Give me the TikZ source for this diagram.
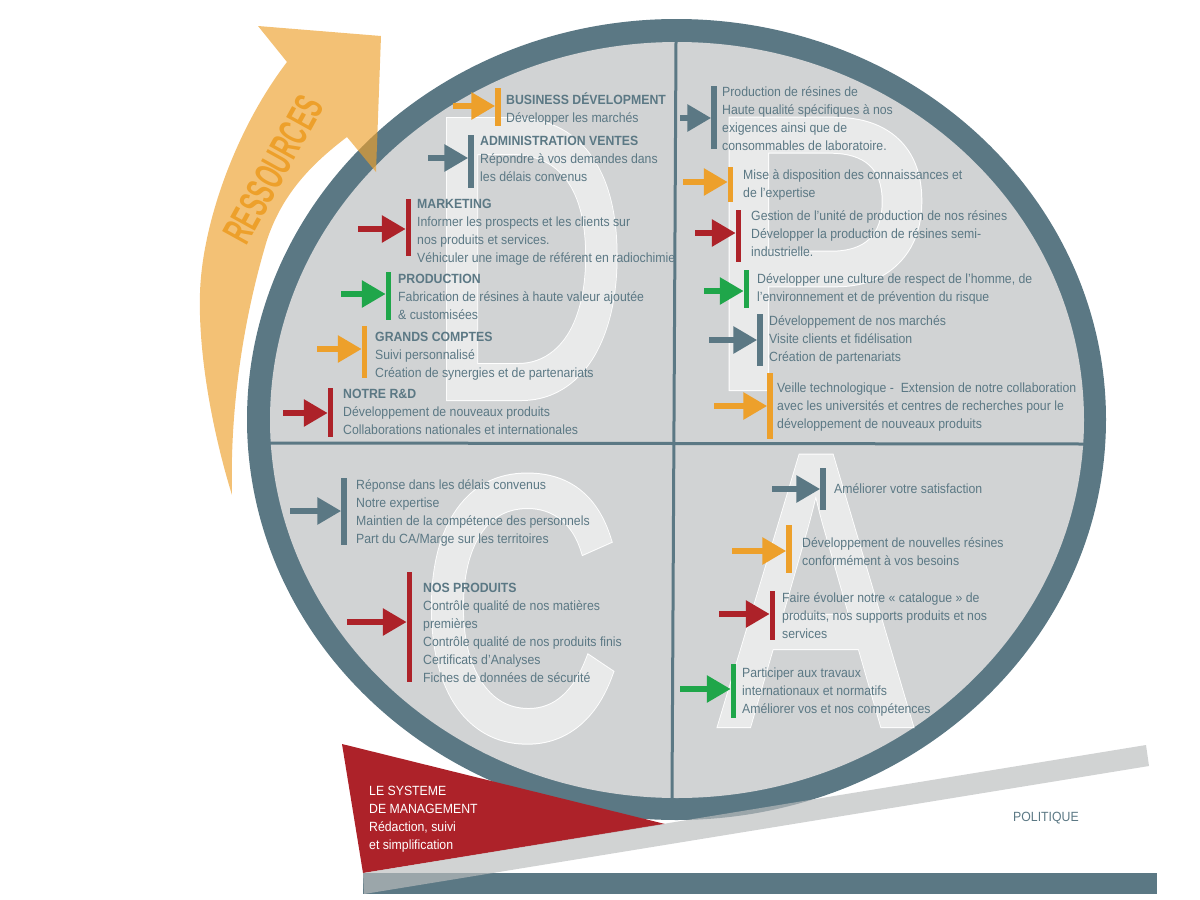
\documentclass[tikz,border=0pt]{standalone}
\usepackage{fontspec}
\setmainfont[FakeStretch=0.92]{Liberation Sans}
\usepackage{tikz}
\usetikzlibrary{arrows.meta}
\usetikzlibrary{calc}
\definecolor{pdca-ardoise}{HTML}{5B7884}
\definecolor{pdca-gris}{HTML}{D1D3D4}
\definecolor{pdca-pente}{HTML}{BBBDBE}
\definecolor{pdca-lettre}{HTML}{E9EAEA}
\definecolor{pdca-orange}{HTML}{EDA02B}
\definecolor{pdca-rouge}{HTML}{AD2229}
\definecolor{pdca-vert}{HTML}{1FA64A}
\newcommand{\strokeletter}[1]{\rlap{\special{pdf:code 1 1 1 RG 8 w 2 Tr}#1}\special{pdf:code 0.914 0.918 0.918 RG 6 w 2 Tr}#1\special{pdf:code 0 Tr}}

\begin{document}
\begin{tikzpicture}[x=1pt, y=-1pt, line join=miter,
    barbox/.style={rectangle, draw=none, inner sep=0pt, outer sep=0pt, minimum width=5.5pt},
    flowarrow/.style={line width=6pt, -{Triangle[length=24pt,width=26pt]}},
    itemtext/.style={anchor=north west, align=left, inner sep=0pt, text=pdca-ardoise,
        font=\fontsize{13.35}{18}\selectfont, execute at begin node={\strut}},
    bigletter/.style={anchor=base, inner sep=0pt, text=pdca-lettre}]
    \useasboundingbox (0,0) rectangle (1200,900);

    % wheel
    \fill[pdca-ardoise] (676.5,419.5) ellipse [x radius=429.5pt, y radius=400.5pt];
    \fill[pdca-gris] (677,420) ellipse [x radius=407pt, y radius=378pt];

    % resources arrow
    \fill[pdca-orange, fill opacity=0.65]
    (258,26) -- (381,36) -- (376,172) -- (347,137)
    .. controls (310,165) and (282,195) .. (267,240)
    .. controls (240,330) and (230,420) .. (232,495)
    .. controls (215,440) and (198,360) .. (200,293)
    .. controls (202,225) and (235,130) .. (287,62) -- cycle;

    % big letters
    \node[bigletter, xscale=0.757, font=\fontsize{401}{401}\selectfont] (letterD) at (527,397) {\strokeletter{D}};
    \node[bigletter, xscale=0.98, font=\fontsize{387}{387}\selectfont] (letterP) at (820.4,387) {\strokeletter{P}};
    \node[bigletter, xscale=0.81, font=\fontsize{373}{373}\selectfont] (letterC) at (520.5,737) {\strokeletter{C}};
    \node[bigletter, xscale=0.80, font=\fontsize{387}{387}\selectfont] (letterA) at (815.5,724) {\strokeletter{A}};

    % quadrants
    \draw[line width=3pt, pdca-ardoise] (676,42) -- (672,798);
    \draw[line width=3pt, pdca-ardoise] (270,443) -- (1084,444);

    % do
    \node[barbox, fill=pdca-orange, minimum height=38pt] (barBusiness) at (498,107) {};
    \coordinate (startBusiness) at (453,106);
    \draw[flowarrow, pdca-orange] (startBusiness) -- (startBusiness -| barBusiness.west);
    \node[itemtext] (textBusiness) at (506,92) {\textbf{BUSINESS DÉVELOPMENT}\\Développer les marchés};

    \node[barbox, fill=pdca-ardoise, minimum height=53pt] (barAdmin) at (471,161.5) {};
    \coordinate (startAdmin) at (428,158);
    \draw[flowarrow, pdca-ardoise] (startAdmin) -- (startAdmin -| barAdmin.west);
    \node[itemtext] (textAdmin) at (480,136) {\textbf{ADMINISTRATION VENTES}\\Répondre à vos demandes dans\\les délais convenus};

    \node[barbox, fill=pdca-rouge, minimum height=57pt] (barMarketing) at (408.5,227.5) {};
    \coordinate (startMarketing) at (358,229);
    \draw[flowarrow, pdca-rouge] (startMarketing) -- (startMarketing -| barMarketing.west);
    \node[itemtext] (textMarketing) at (417,198.5) {\textbf{MARKETING}\\Informer les prospects et les clients sur\\nos produits et services.\\Véhiculer une image de référent en radiochimie};

    \node[barbox, fill=pdca-vert, minimum height=48pt] (barProduction) at (388.5,296) {};
    \coordinate (startProduction) at (341,294);
    \draw[flowarrow, pdca-vert] (startProduction) -- (startProduction -| barProduction.west);
    \node[itemtext] (textProduction) at (398,273.5) {\textbf{PRODUCTION}\\Fabrication de résines à haute valeur ajoutée\\\& customisées};

    \node[barbox, fill=pdca-orange, minimum height=52pt] (barComptes) at (364.5,352) {};
    \coordinate (startComptes) at (317,349);
    \draw[flowarrow, pdca-orange] (startComptes) -- (startComptes -| barComptes.west);
    \node[itemtext] (textComptes) at (375,331.5) {\textbf{GRANDS COMPTES}\\Suivi personnalisé\\Création de synergies et de partenariats};

    \node[barbox, fill=pdca-rouge, minimum height=49pt] (barRD) at (330.5,412.5) {};
    \coordinate (startRD) at (283,413);
    \draw[flowarrow, pdca-rouge] (startRD) -- (startRD -| barRD.west);
    \node[itemtext] (textRD) at (343,388.5) {\textbf{NOTRE R\&D}\\Développement de nouveaux produits\\Collaborations nationales et internationales};

    % plan
    \node[barbox, fill=pdca-ardoise, minimum height=63pt] (barResines) at (714,117.5) {};
    \coordinate (startResines) at (680,118);
    \draw[flowarrow, pdca-ardoise] (startResines) -- (startResines -| barResines.west);
    \node[itemtext] (textResines) at (722,86.5) {Production de résines de\\Haute qualité spécifiques à nos\\exigences ainsi que de\\consommables de laboratoire.};

    \node[barbox, fill=pdca-orange, minimum height=35pt] (barExpertise) at (730.5,184.5) {};
    \coordinate (startExpertise) at (683,182);
    \draw[flowarrow, pdca-orange] (startExpertise) -- (startExpertise -| barExpertise.west);
    \node[itemtext] (textExpertise) at (743,169.5) {Mise à disposition des connaissances et\\de l’expertise};

    \node[barbox, fill=pdca-rouge, minimum height=52pt] (barGestion) at (738.5,236) {};
    \coordinate (startGestion) at (695,233);
    \draw[flowarrow, pdca-rouge] (startGestion) -- (startGestion -| barGestion.west);
    \node[itemtext] (textGestion) at (751,210.5) {Gestion de l’unité de production de nos résines\\Développer la production de résines semi-\\industrielle.};

    \node[barbox, fill=pdca-vert, minimum height=38pt] (barCulture) at (746.5,289) {};
    \coordinate (startCulture) at (704,291);
    \draw[flowarrow, pdca-vert] (startCulture) -- (startCulture -| barCulture.west);
    \node[itemtext] (textCulture) at (757,273.5) {Développer une culture de respect de l’homme, de\\l’environnement et de prévention du risque};

    \node[barbox, fill=pdca-ardoise, minimum height=52pt] (barMarches) at (760,340) {};
    \coordinate (startMarches) at (709,340);
    \draw[flowarrow, pdca-ardoise] (startMarches) -- (startMarches -| barMarches.west);
    \node[itemtext] (textMarches) at (769,315.5) {Développement de nos marchés\\Visite clients et fidélisation\\Création de partenariats};

    \node[barbox, fill=pdca-orange, minimum height=66pt] (barVeille) at (770,406) {};
    \coordinate (startVeille) at (714,406);
    \draw[flowarrow, pdca-orange] (startVeille) -- (startVeille -| barVeille.west);
    \node[itemtext] (textVeille) at (777,382.5) {Veille technologique -\ \ Extension de notre collaboration\\avec les universités et centres de recherches pour le\\développement de nouveaux produits};

    % check
    \node[barbox, fill=pdca-ardoise, minimum height=67pt] (barReponse) at (344,511.5) {};
    \coordinate (startReponse) at (290,511);
    \draw[flowarrow, pdca-ardoise] (startReponse) -- (startReponse -| barReponse.west);
    \node[itemtext] (textReponse) at (356,479.5) {Réponse dans les délais convenus\\Notre expertise\\Maintien de la compétence des personnels\\Part du CA/Marge sur les territoires};

    \node[barbox, fill=pdca-rouge, minimum height=110pt] (barProduits) at (409.5,627) {};
    \coordinate (startProduits) at (347,622);
    \draw[flowarrow, pdca-rouge] (startProduits) -- (startProduits -| barProduits.west);
    \node[itemtext] (textProduits) at (423,582.5) {\textbf{NOS PRODUITS}\\Contrôle qualité de nos matières\\premières\\Contrôle qualité de nos produits finis\\Certificats d’Analyses\\Fiches de données de sécurité};

    % act
    \node[barbox, fill=pdca-ardoise, minimum height=42pt] (barSatisfaction) at (823,489) {};
    \coordinate (startSatisfaction) at (772,489);
    \draw[flowarrow, pdca-ardoise] (startSatisfaction) -- (startSatisfaction -| barSatisfaction.west);
    \node[itemtext] (textSatisfaction) at (834,480.5) {Améliorer votre satisfaction};

    \node[barbox, fill=pdca-orange, minimum height=48pt] (barBesoins) at (789,549) {};
    \coordinate (startBesoins) at (732,551);
    \draw[flowarrow, pdca-orange] (startBesoins) -- (startBesoins -| barBesoins.west);
    \node[itemtext] (textBesoins) at (802,537.5) {Développement de nouvelles résines\\conformément à vos besoins};

    \node[barbox, fill=pdca-rouge, minimum height=49pt] (barCatalogue) at (772.5,615.5) {};
    \coordinate (startCatalogue) at (719,614);
    \draw[flowarrow, pdca-rouge] (startCatalogue) -- (startCatalogue -| barCatalogue.west);
    \node[itemtext] (textCatalogue) at (782,592.5) {Faire évoluer notre « catalogue » de\\produits, nos supports produits et nos\\services};

    \node[barbox, fill=pdca-vert, minimum height=54pt] (barTravaux) at (733.5,691) {};
    \coordinate (startTravaux) at (680,689);
    \draw[flowarrow, pdca-vert] (startTravaux) -- (startTravaux -| barTravaux.west);
    \node[itemtext] (textTravaux) at (742,667.5) {Participer aux travaux\\internationaux et normatifs\\Améliorer vos et nos compétences};

    % wedge and slope
    \fill[pdca-ardoise] (363,873) -- (1157,873) -- (1157,894) -- (363,894) -- cycle;
    \fill[pdca-rouge] (342,744) -- (665,824) -- (363,873) -- cycle;
    \fill[pdca-pente, fill opacity=0.67] (363,873) -- (1146,745) -- (1149,766) -- (364,894) -- cycle;
    \node[itemtext, text=white] (textSysteme) at (369,785.5) {LE SYSTEME\\DE MANAGEMENT\\Rédaction, suivi\\et simplification};
    \node[itemtext] (textPolitique) at (1013,809) {POLITIQUE};

    % resources label
    \node[inner sep=0pt, text=pdca-orange, rotate=61, xscale=0.61, font=\bfseries\fontsize{41}{41}\selectfont] (textRessources) at (273.5,169.5) {RESSOURCES};
\end{tikzpicture}
\end{document}
